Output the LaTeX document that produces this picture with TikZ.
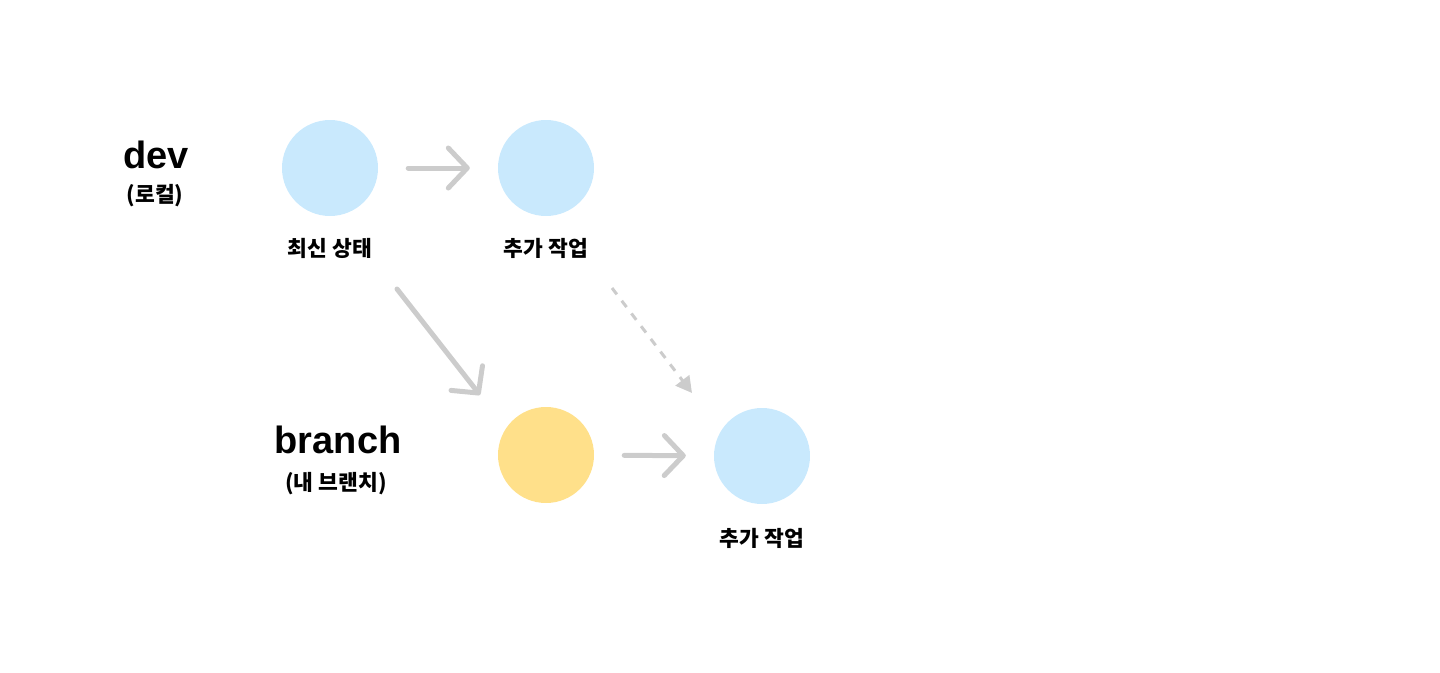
\documentclass[tikz,border=0pt]{standalone}
\usepackage{fontspec}
\setmainfont{Noto Sans CJK KR}
\newfontfamily\latinfont{Liberation Sans}
\usetikzlibrary{arrows.meta}
\definecolor{commitblue}{HTML}{C9E9FD}
\definecolor{commityellow}{HTML}{FFE08A}
\definecolor{arrowgray}{HTML}{CCCCCC}

\begin{document}
\begin{tikzpicture}[x=1pt, y=-1pt,
  commit/.style={circle, minimum size=96pt, inner sep=0pt},
  commitname/.style={font=\fontsize{21.5}{24}\selectfont\bfseries},
  linename/.style={font=\latinfont\fontsize{38}{42}\selectfont\bfseries},
  linesub/.style={font=\fontsize{21.5}{24}\selectfont\bfseries},
  solidarrow/.style={arrowgray, line width=5pt, line cap=round, line join=round,
    -{Straight Barb[length=19pt, width=40pt, line cap=round, line join=round]}},
  dashedarrow/.style={arrowgray, line width=3pt, dash pattern=on 8pt off 8pt,
    -{Triangle[length=16pt, width=17pt]}}]
\useasboundingbox (0,0) rectangle (1440,672);

% dev line
\node[linename] (dev) at (156,155) {dev};
\node[linesub] (devsub) at (155,196) {(로컬)};

\node[commit, fill=commitblue] (base) at (330,168) {};
\node[commitname] (basename) at (330,248) {최신 상태};

\node[commit, fill=commitblue] (devwork) at (546,168) {};
\node[commitname] (devworkname) at (546,248) {추가 작업};

\draw[solidarrow, shorten <=30pt, shorten >=28pt] (base) -- (devwork);

% branch line
\node[linename] (branch) at (338,440) {branch};
\node[linesub] (branchsub) at (336,484) {(내 브랜치)};

\node[commit, fill=commityellow] (start) at (546,455) {};

\node[commit, fill=commitblue] (work) at (762,456) {};
\node[commitname] (workname) at (762,538) {추가 작업};

\draw[solidarrow, shorten <=30pt, shorten >=28pt] (start) -- (work);

% branching off
\coordinate (forkfrom) at (397,289);
\coordinate (forkto) at (480,395);
\draw[solidarrow] (forkfrom) -- (forkto);

% merge from dev
\coordinate (mergefrom) at (612,288);
\coordinate (mergeto) at (692,393);
\draw[dashedarrow] (mergefrom) -- (mergeto);

\end{tikzpicture}
\end{document}
